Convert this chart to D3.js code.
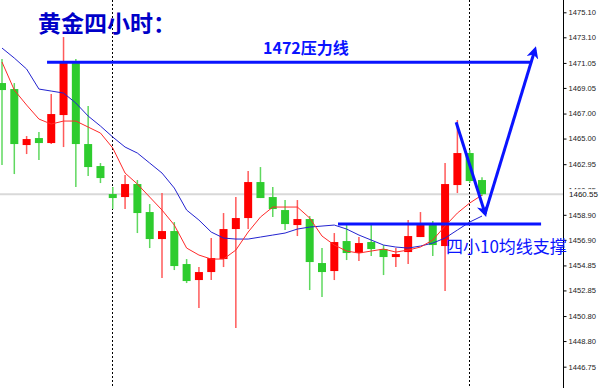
<!DOCTYPE html>
<html>
<head>
<meta charset="utf-8">
<script src="https://cdn.jsdelivr.net/npm/d3@7"></script>
<style>
  body { margin: 0; background: #fff; }
  svg { display: block; }
</style>
</head>
<body>
<div class="main-content"></div>
<script>
// four hour gold candles (oldest first)
const opens = [1469.44, 1468.96, 1464.48, 1465.04, 1464.64, 1466.88, 1471.04, 1464.56, 1462.80, 1460.56,
  1460.32, 1461.36, 1459.12, 1456.96, 1457.60, 1454.96, 1453.68, 1454.32, 1455.36, 1457.76,
  1458.64, 1461.52, 1460.32, 1459.28, 1458.08, 1458.56, 1455.04, 1454.40, 1456.80, 1455.84,
  1456.72, 1456.16, 1455.52, 1455.92, 1457.12, 1458.08, 1456.40, 1461.28, 1463.84, 1461.68]
const highs = [1471.36, 1469.44, 1465.20, 1465.52, 1468.56, 1473.12, 1471.36, 1467.60, 1463.04, 1461.12,
  1462.08, 1461.68, 1459.76, 1460.64, 1458.32, 1455.36, 1454.72, 1457.04, 1459.04, 1460.32,
  1462.40, 1462.72, 1461.12, 1460.08, 1460.08, 1458.80, 1456.24, 1457.44, 1458.08, 1457.12,
  1458.08, 1456.48, 1456.24, 1458.48, 1459.12, 1458.40, 1463.04, 1466.48, 1464.08, 1461.90]
const lows = [1462.88, 1462.16, 1463.76, 1463.28, 1464.56, 1464.32, 1461.12, 1462.00, 1461.44, 1459.36,
  1459.36, 1457.44, 1456.24, 1453.84, 1454.48, 1453.44, 1451.44, 1453.68, 1454.72, 1449.84,
  1457.76, 1460.24, 1458.72, 1457.68, 1457.20, 1452.88, 1452.32, 1453.68, 1455.28, 1455.20,
  1455.60, 1454.08, 1454.72, 1454.96, 1457.12, 1455.60, 1452.80, 1460.64, 1461.44, 1460.40]
const closes = [1468.88, 1464.56, 1464.96, 1464.64, 1466.96, 1471.04, 1464.56, 1462.72, 1461.84, 1460.24,
  1461.36, 1459.04, 1456.96, 1457.60, 1454.80, 1453.60, 1454.32, 1455.44, 1457.76, 1458.64,
  1461.52, 1460.24, 1459.36, 1458.16, 1458.56, 1455.12, 1454.32, 1456.72, 1455.84, 1456.64,
  1456.16, 1455.52, 1455.76, 1457.20, 1458.08, 1456.48, 1461.36, 1463.84, 1461.60, 1460.55]

// fast (red) and slow (blue) moving averages
const maFast = [1471.12, 1468.88, 1467.68, 1466.56, 1466.16, 1466.40, 1466.40, 1465.92, 1465.44, 1464.24,
  1462.24, 1461.36, 1460.32, 1459.28, 1458.08, 1456.24, 1455.68, 1455.36, 1455.36, 1456.08,
  1457.52, 1458.72, 1459.52, 1459.52, 1459.52, 1458.64, 1457.20, 1456.48, 1456.00, 1455.84,
  1456.00, 1456.16, 1455.92, 1456.08, 1456.32, 1456.88, 1458.00, 1459.04, 1459.84, 1460.48]
const maSlow = [1472.24, 1471.44, 1470.56, 1468.96, 1468.80, 1468.64, 1467.84, 1466.80, 1466.00, 1465.12,
  1464.32, 1463.84, 1463.04, 1462.24, 1461.04, 1459.28, 1458.48, 1457.52, 1457.04, 1456.96,
  1456.96, 1457.12, 1457.28, 1457.44, 1457.76, 1457.92, 1458.00, 1458.08, 1457.76, 1457.28,
  1456.88, 1456.48, 1456.32, 1456.24, 1456.40, 1456.64, 1457.04, 1457.68, 1458.32, 1458.80]

const priceTicks = [1475.10, 1473.10, 1471.05, 1469.05, 1467.00, 1465.00, 1462.95, 1460.85,
  1458.90, 1456.90, 1454.85, 1452.85, 1450.80, 1448.80, 1446.75]
const separators = [9, 38]
const lastPrice = 1460.55

// drawn annotations, in [candle index, price]
const resistance = [[3.66, 1471.1], [42.9, 1471.1]]
const support = [[27.3, 1458.16], [43.8, 1458.16]]
const arrowDown = [[36.9, 1466.3], [39.25, 1459.0]]
const arrowUp = [[39.25, 1459.0], [43.3, 1472.1]]

const svgWidth = 600
const svgHeight = 388
const axisX = 563
const bodyWidth = 8
const upColor = '#ff0000'
const downColor = '#2ecc2e'
const annoColor = '#0a14ff'

var svg = d3.select('.main-content')
  .append('svg')
  .attr('width', svgWidth)
  .attr('height', svgHeight)

var x = d3.scaleLinear().domain([0, 39]).range([2, 482])
var y = d3.scaleLinear().domain([1445.044, 1476.084]).range([svgHeight, 0])

var candles = d3.range(opens.length).map(function(i) {
  return { i: i, o: opens[i], h: highs[i], l: lows[i], c: closes[i] }
})

// current price line
svg.append('line')
  .attr('x1', 0)
  .attr('x2', axisX)
  .attr('y1', y(lastPrice))
  .attr('y2', y(lastPrice))
  .attr('stroke', '#d9d9d9')
  .attr('stroke-width', 2)

// period separators
svg.selectAll('.sep')
  .data(separators)
  .enter()
  .append('line')
  .attr('class', 'sep')
  .attr('x1', function(d) { return Math.round(x(d)) - 0.5 })
  .attr('x2', function(d) { return Math.round(x(d)) - 0.5 })
  .attr('y1', 0)
  .attr('y2', svgHeight)
  .attr('stroke', '#000')
  .attr('stroke-width', 1)
  .attr('stroke-dasharray', '2,2')

// wicks
svg.selectAll('.wick')
  .data(candles)
  .enter()
  .append('line')
  .attr('class', 'wick')
  .attr('x1', function(d) { return x(d.i) })
  .attr('x2', function(d) { return x(d.i) })
  .attr('y1', function(d) { return y(d.h) })
  .attr('y2', function(d) { return y(d.l) })
  .attr('stroke', function(d) { return d.c >= d.o ? '#ff5a5a' : '#5fd85f' })
  .attr('stroke-width', 1.5)

// bodies
svg.selectAll('.body')
  .data(candles)
  .enter()
  .append('rect')
  .attr('class', 'body')
  .attr('x', function(d) { return x(d.i) - bodyWidth / 2 })
  .attr('y', function(d) { return y(Math.max(d.o, d.c)) })
  .attr('width', bodyWidth)
  .attr('height', function(d) { return Math.max(1.5, Math.abs(y(d.o) - y(d.c))) })
  .attr('fill', function(d) { return d.c >= d.o ? upColor : downColor })

// moving averages
var maLine = d3.line()
  .x(function(d, i) { return x(i) })
  .y(function(d) { return y(d) })

svg.append('path')
  .attr('d', maLine(maSlow))
  .attr('fill', 'none')
  .attr('stroke', '#2323d0')
  .attr('stroke-width', 1)

svg.append('path')
  .attr('d', maLine(maFast))
  .attr('fill', 'none')
  .attr('stroke', '#ff2a2a')
  .attr('stroke-width', 1)

// price axis
svg.append('line')
  .attr('x1', axisX + 0.5)
  .attr('x2', axisX + 0.5)
  .attr('y1', 0)
  .attr('y2', svgHeight)
  .attr('stroke', '#000')

var axis = d3.axisRight(y)
  .tickValues(priceTicks)
  .tickSize(3)
  .tickPadding(2)
  .tickFormat(d3.format('.2f'))

svg.append('g')
  .attr('transform', 'translate(' + (axisX + 0.5) + ',0)')
  .call(axis)
  .call(function(g) { g.select('.domain').remove() })
  .call(function(g) {
    g.selectAll('text')
      .attr('font-family', 'Liberation Sans, Arial, sans-serif')
      .attr('font-size', 7.6)
      .attr('fill', '#222')
  })

// last price tag, covering the tick label beneath it
var tag = svg.append('g')
  .attr('transform', 'translate(' + (axisX + 1) + ',' + y(lastPrice) + ')')
tag.append('rect')
  .attr('x', 0)
  .attr('y', -5)
  .attr('width', 37)
  .attr('height', 10)
  .attr('fill', '#fff')
tag.append('text')
  .attr('x', 5)
  .attr('y', 3)
  .attr('font-family', 'Liberation Sans, Arial, sans-serif')
  .attr('font-size', 8)
  .attr('fill', '#111')
  .text(d3.format('.2f')(lastPrice))

// annotations
var defs = svg.append('defs')
defs.append('marker')
  .attr('id', 'head')
  .attr('viewBox', '0 0 10 10')
  .attr('refX', 7)
  .attr('refY', 5)
  .attr('markerWidth', 12)
  .attr('markerHeight', 12)
  .attr('markerUnits', 'userSpaceOnUse')
  .attr('orient', 'auto')
  .append('path')
  .attr('d', 'M0,0 L10,5 L0,10 L3,5 z')
  .attr('fill', annoColor)

var annoLine = d3.line()
  .x(function(d) { return x(d[0]) })
  .y(function(d) { return y(d[1]) })

svg.selectAll('.level')
  .data([resistance, support])
  .enter()
  .append('path')
  .attr('class', 'level')
  .attr('d', annoLine)
  .attr('fill', 'none')
  .attr('stroke', annoColor)
  .attr('stroke-width', 3)

svg.selectAll('.arrow')
  .data([arrowDown, arrowUp])
  .enter()
  .append('path')
  .attr('class', 'arrow')
  .attr('d', annoLine)
  .attr('fill', 'none')
  .attr('stroke', annoColor)
  .attr('stroke-width', 3)
  .attr('marker-end', 'url(#head)')

// texts
svg.append('text')
  .attr('x', 38)
  .attr('y', 32)
  .attr('font-family', 'Noto Sans CJK SC, sans-serif')
  .attr('font-size', 23)
  .attr('font-weight', 'bold')
  .attr('fill', '#0000c8')
  .text('黄金四小时：')

svg.append('text')
  .attr('x', 263)
  .attr('y', 54)
  .attr('font-family', 'Noto Sans CJK SC, sans-serif')
  .attr('font-size', 16)
  .attr('font-weight', 'bold')
  .attr('fill', annoColor)
  .text('1472压力线')

svg.append('text')
  .attr('x', 446)
  .attr('y', 253)
  .attr('font-family', 'Noto Sans CJK SC, sans-serif')
  .attr('font-size', 17)
  .attr('fill', annoColor)
  .text('四小10均线支撑')
</script>
</body>
</html>
